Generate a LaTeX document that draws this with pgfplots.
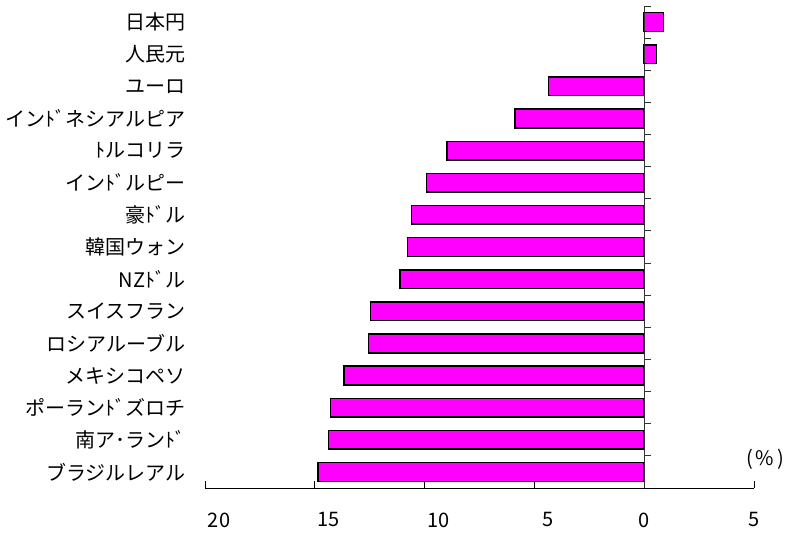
\documentclass[border=0pt]{standalone}
\usepackage{fontspec}
\setmainfont{Noto Sans CJK JP}
\usepackage{pgfplots}
\pgfplotsset{compat=1.18}
\definecolor{barmag}{RGB}{255,0,255}
\begin{document}
\begin{tikzpicture}
\path[use as bounding box] (0pt,0pt) rectangle (786pt,536pt);
\begin{axis}[
  at={(205pt,48pt)}, anchor=south west,
  scale only axis, width=549pt, height=482pt,
  xmin=-20, xmax=5, ymin=-0.5, ymax=14.5, y dir=reverse,
  xbar, bar width=18.7pt,
  axis x line*=bottom, axis y line*=left,
  y axis line style={draw=none},
  x axis line style={line width=0.9pt},
  ytick={0,...,14},
  yticklabels={日本円,人民元,ユーロ,インﾄﾞネシアルピア,ﾄルコリラ,インﾄﾞルピー,豪ﾄﾞル,韓国ウォン,NZﾄﾞル,スイスフラン,ロシアルーブル,メキシコペソ,ポーランﾄﾞズロチ,南ア･ランﾄﾞ,ブラジルレアル},
  ytick style={draw=none},
  yticklabel style={font=\fontsize{20}{22}\selectfont, anchor=east, xshift=-9pt},
  xtick={-20,-15,-10,-5,0,5},
  xticklabels={\hspace*{28pt}20,\hspace*{28pt}15,\hspace*{28pt}10,\hspace*{28pt}5,0,5},
  xticklabel style={font=\fontsize{20}{22}\selectfont, anchor=north, yshift=-21pt},
  xtick align=inside, major tick length=7pt,
  x tick style={line width=0.9pt, black},
  clip=false,
]
\addplot[fill=barmag, draw=black, line width=1.5pt] coordinates {
  (0.87,0) (0.57,1) (-4.36,2) (-5.89,3) (-8.97,4) (-9.92,5) (-10.60,6)
  (-10.77,7) (-11.12,8) (-12.47,9) (-12.55,10) (-13.68,11) (-14.29,12)
  (-14.37,13) (-14.86,14)
};
\draw[line width=0.9pt, black!80] (axis cs:0,-0.5) -- (axis cs:0,14.5);
\pgfplotsinvokeforeach{-0.5,0.5,1.5,2.5,3.5,4.5,5.5,6.5,7.5,8.5,9.5,10.5,11.5,12.5,13.5}{
  \draw[line width=0.9pt, black!80] (axis cs:0,#1) -- ([xshift=7pt]axis cs:0,#1);
}
\end{axis}
\node[font=\fontsize{20}{22}\selectfont] at (765pt,77pt) {(\hspace{3pt}\%\hspace{3pt})};
\end{tikzpicture}
\end{document}
